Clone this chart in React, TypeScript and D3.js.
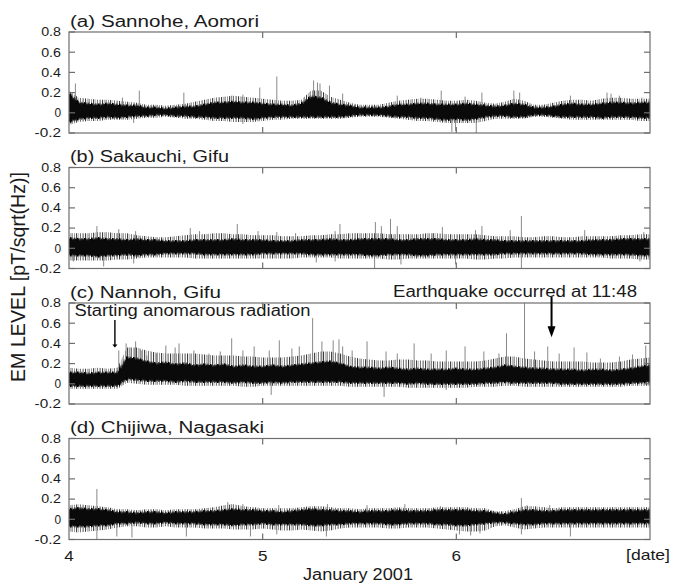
import React from 'react';
import * as d3 from 'd3';

// ---------------- data ----------------
const SAMPLE_DAYS = d3.range(61).map((i) => 4 + i * 0.05); // sample times, 0.05 day apart
const X_TICKS = [4, 5, 6];
const X_TICK_LABELS = ['4', '5', '6'];
const Y_TICKS = [-0.2, 0, 0.2, 0.4, 0.6, 0.8];
const Y_TICK_LABELS = ['-0.2', '0', '0.2', '0.4', '0.6', '0.8'];
const TITLES = ['(a) Sannohe, Aomori', '(b) Sakauchi, Gifu', '(c) Nannoh, Gifu', '(d) Chijiwa, Nagasaki'];
const TITLE_WIDTHS = [189, 159, 151, 194];

// (a) Sannohe
const A_CORE_HI = [0.19,0.10,0.09,0.08,0.09,0.08,0.07,0.07,0.05,0.05,0.04,0.05,0.06,0.06,0.08,0.10,0.10,0.11,0.10,0.10,0.09,0.08,0.08,0.07,0.09,0.16,0.15,0.10,0.08,0.07,0.05,0.05,0.05,0.06,0.08,0.08,0.09,0.09,0.08,0.08,0.08,0.09,0.08,0.07,0.06,0.07,0.09,0.08,0.05,0.05,0.06,0.08,0.09,0.08,0.08,0.09,0.10,0.10,0.09,0.10,0.10];
const A_CORE_LO = [-0.09,-0.06,-0.05,-0.05,-0.04,-0.05,-0.04,-0.03,-0.03,-0.02,-0.02,-0.03,-0.03,-0.04,-0.04,-0.05,-0.05,-0.05,-0.05,-0.06,-0.05,-0.04,-0.04,-0.04,-0.04,-0.04,-0.04,-0.04,-0.04,-0.03,-0.02,-0.02,-0.02,-0.03,-0.04,-0.04,-0.05,-0.05,-0.06,-0.07,-0.06,-0.07,-0.06,-0.04,-0.03,-0.03,-0.04,-0.04,-0.02,-0.02,-0.03,-0.04,-0.04,-0.04,-0.04,-0.05,-0.04,-0.04,-0.04,-0.05,-0.05];
const A_FRINGE_HI = [0.22,0.15,0.14,0.13,0.13,0.12,0.11,0.10,0.08,0.08,0.07,0.08,0.09,0.11,0.13,0.15,0.16,0.17,0.16,0.15,0.14,0.13,0.12,0.12,0.13,0.22,0.22,0.16,0.13,0.10,0.08,0.08,0.08,0.10,0.12,0.13,0.14,0.14,0.13,0.12,0.12,0.13,0.12,0.10,0.09,0.11,0.14,0.12,0.08,0.08,0.10,0.12,0.13,0.13,0.12,0.14,0.15,0.15,0.14,0.14,0.14];
const A_FRINGE_LO = [-0.12,-0.09,-0.08,-0.08,-0.07,-0.07,-0.07,-0.06,-0.05,-0.05,-0.04,-0.05,-0.06,-0.06,-0.07,-0.08,-0.08,-0.09,-0.09,-0.09,-0.08,-0.07,-0.07,-0.06,-0.06,-0.06,-0.06,-0.06,-0.06,-0.05,-0.04,-0.04,-0.04,-0.05,-0.06,-0.07,-0.08,-0.08,-0.09,-0.10,-0.10,-0.10,-0.10,-0.08,-0.06,-0.06,-0.06,-0.06,-0.04,-0.04,-0.05,-0.06,-0.07,-0.07,-0.07,-0.07,-0.07,-0.07,-0.07,-0.08,-0.08];
const A_SPIKES: [number, number][] = [
  [4.033,0.29],[4.276,0.15],[4.363,0.22],[4.593,0.20],[4.840,0.17],[4.898,0.18],[4.985,0.25],[5.073,0.36],
  [5.263,0.32],[5.283,0.30],[5.296,0.29],[5.345,0.27],[5.413,0.19],[5.695,0.17],[5.817,0.15],[5.922,0.22],
  [6.045,0.16],[6.132,0.20],[6.297,0.22],[6.327,0.20],[6.589,0.17],[6.778,0.20],[6.799,0.19],[6.842,0.17],
  [6.958,0.15],[5.977,-0.19],[5.996,-0.18],[6.103,-0.20],[4.334,-0.10],[4.898,-0.11],
];

// (b) Sakauchi
const B_CORE_HI = [0.10,0.09,0.09,0.10,0.09,0.09,0.08,0.09,0.08,0.08,0.07,0.07,0.07,0.08,0.08,0.08,0.08,0.09,0.08,0.08,0.08,0.07,0.07,0.07,0.08,0.08,0.08,0.09,0.08,0.08,0.09,0.09,0.09,0.09,0.08,0.08,0.09,0.09,0.09,0.08,0.08,0.08,0.09,0.08,0.08,0.07,0.07,0.07,0.07,0.07,0.07,0.07,0.07,0.07,0.08,0.08,0.08,0.09,0.09,0.09,0.09];
const B_CORE_LO = [-0.07,-0.07,-0.07,-0.08,-0.07,-0.07,-0.06,-0.07,-0.06,-0.06,-0.05,-0.05,-0.05,-0.05,-0.06,-0.06,-0.06,-0.06,-0.06,-0.06,-0.05,-0.05,-0.05,-0.05,-0.05,-0.06,-0.06,-0.06,-0.06,-0.06,-0.06,-0.07,-0.07,-0.06,-0.06,-0.06,-0.07,-0.07,-0.06,-0.06,-0.06,-0.06,-0.06,-0.06,-0.06,-0.05,-0.05,-0.05,-0.05,-0.05,-0.05,-0.05,-0.05,-0.05,-0.06,-0.06,-0.06,-0.06,-0.06,-0.07,-0.07];
const B_FRINGE_HI = [0.15,0.15,0.15,0.16,0.16,0.15,0.15,0.13,0.12,0.11,0.11,0.12,0.13,0.14,0.14,0.15,0.15,0.14,0.14,0.13,0.13,0.13,0.12,0.12,0.12,0.13,0.13,0.14,0.14,0.15,0.15,0.15,0.15,0.14,0.14,0.14,0.14,0.15,0.15,0.14,0.14,0.14,0.14,0.13,0.12,0.12,0.12,0.11,0.11,0.12,0.12,0.11,0.11,0.12,0.12,0.12,0.12,0.13,0.13,0.14,0.14];
const B_FRINGE_LO = [-0.12,-0.12,-0.12,-0.12,-0.12,-0.11,-0.11,-0.10,-0.09,-0.09,-0.09,-0.09,-0.09,-0.10,-0.10,-0.10,-0.10,-0.10,-0.10,-0.10,-0.10,-0.10,-0.10,-0.10,-0.09,-0.09,-0.09,-0.09,-0.10,-0.10,-0.10,-0.10,-0.10,-0.11,-0.11,-0.10,-0.10,-0.10,-0.10,-0.10,-0.10,-0.10,-0.11,-0.11,-0.10,-0.10,-0.09,-0.09,-0.09,-0.09,-0.09,-0.09,-0.09,-0.09,-0.09,-0.09,-0.10,-0.10,-0.10,-0.11,-0.11];
const B_SPIKES: [number, number][] = [
  [4.144,0.22],[4.257,0.19],[4.344,0.17],[4.626,0.20],[4.674,0.17],[4.869,0.24],[4.976,0.17],[5.073,0.16],
  [5.170,0.15],[5.374,0.17],[5.399,0.24],[5.582,0.26],[5.613,0.22],[5.660,0.29],[5.695,0.22],[5.879,0.15],
  [5.928,0.21],[6.099,0.18],[6.132,0.22],[6.278,0.18],[6.336,0.32],[6.663,0.18],[6.968,0.16],
  [5.578,-0.20],[6.336,-0.20],[4.334,-0.15],[4.179,-0.18],[4.023,-0.13],[5.996,-0.16],[5.714,-0.16],
  [5.277,-0.14],[5.374,-0.13],[6.948,-0.13],
];

// (c) Nannoh
const C_CORE_HI = [0.11,0.11,0.10,0.11,0.11,0.11,0.26,0.25,0.22,0.20,0.21,0.19,0.20,0.18,0.19,0.18,0.19,0.17,0.18,0.17,0.17,0.18,0.17,0.18,0.19,0.20,0.21,0.22,0.20,0.17,0.16,0.16,0.15,0.16,0.15,0.14,0.15,0.14,0.14,0.14,0.15,0.14,0.14,0.15,0.16,0.18,0.17,0.16,0.15,0.15,0.14,0.14,0.14,0.13,0.14,0.14,0.13,0.14,0.15,0.17,0.18];
const C_CORE_LO = [-0.02,-0.02,-0.02,-0.02,-0.02,-0.02,0.05,0.04,0.03,0.03,0.03,0.02,0.03,0.02,0.02,0.02,0.02,0.01,0.02,0.01,0.01,0.02,0.01,0.02,0.02,0.02,0.02,0.02,0.02,0.01,0.01,0.01,0.01,0.01,0.01,0.00,0.01,0.00,0.00,0.00,0.00,0.00,0.00,0.01,0.01,0.02,0.01,0.01,0.01,0.01,0.01,0.00,0.00,0.00,0.00,0.00,0.00,0.00,0.01,0.01,0.02];
const C_FRINGE_HI = [0.16,0.15,0.15,0.16,0.15,0.16,0.36,0.36,0.33,0.31,0.30,0.30,0.30,0.30,0.29,0.28,0.28,0.28,0.27,0.27,0.26,0.26,0.26,0.27,0.28,0.30,0.32,0.32,0.30,0.27,0.25,0.24,0.23,0.23,0.24,0.24,0.23,0.23,0.22,0.22,0.22,0.22,0.22,0.23,0.25,0.27,0.27,0.25,0.24,0.23,0.22,0.22,0.22,0.22,0.21,0.21,0.21,0.22,0.24,0.25,0.26];
const C_FRINGE_LO = [-0.05,-0.05,-0.05,-0.05,-0.05,-0.05,0.01,0.00,-0.01,-0.01,-0.01,-0.01,-0.02,-0.02,-0.02,-0.02,-0.02,-0.02,-0.03,-0.03,-0.02,-0.02,-0.02,-0.02,-0.02,-0.02,-0.02,-0.02,-0.02,-0.03,-0.03,-0.03,-0.03,-0.03,-0.03,-0.04,-0.04,-0.04,-0.04,-0.04,-0.04,-0.04,-0.03,-0.03,-0.03,-0.02,-0.02,-0.03,-0.03,-0.03,-0.03,-0.03,-0.03,-0.03,-0.03,-0.03,-0.03,-0.03,-0.02,-0.02,-0.02];
const C_SPIKES: [number, number][] = [
  [4.257,0.33],[4.295,0.40],[4.315,0.36],[4.344,0.42],[4.373,0.33],[4.402,0.28],[4.451,0.30],[4.500,0.38],
  [4.548,0.36],[4.568,0.40],[4.645,0.33],[4.723,0.30],[4.781,0.32],[4.840,0.45],[4.898,0.33],[4.956,0.37],
  [5.034,0.33],[5.086,0.43],[5.151,0.35],[5.189,0.37],[5.258,0.65],[5.306,0.42],[5.364,0.43],[5.394,0.44],
  [5.413,0.37],[5.462,0.33],[5.539,0.42],[5.637,0.32],[5.695,0.30],[5.782,0.40],[5.870,0.30],[5.948,0.33],
  [6.045,0.37],[6.142,0.32],[6.220,0.30],[6.259,0.50],[6.352,0.80],[6.404,0.32],[6.472,0.37],[6.531,0.30],
  [6.608,0.36],[6.674,0.31],[6.744,0.25],[6.842,0.27],[6.910,0.29],[6.978,0.38],
  [5.044,-0.11],[5.627,-0.13],[5.948,-0.06],
];

// (d) Chijiwa
const D_CORE_HI = [0.10,0.11,0.10,0.10,0.09,0.07,0.07,0.06,0.07,0.07,0.06,0.07,0.07,0.07,0.08,0.08,0.09,0.10,0.09,0.09,0.08,0.08,0.07,0.08,0.09,0.10,0.09,0.09,0.08,0.08,0.07,0.08,0.08,0.08,0.09,0.08,0.08,0.08,0.09,0.09,0.09,0.09,0.08,0.08,0.06,0.05,0.07,0.09,0.09,0.08,0.08,0.09,0.09,0.09,0.09,0.09,0.09,0.09,0.09,0.09,0.09];
const D_CORE_LO = [-0.07,-0.07,-0.07,-0.06,-0.06,-0.04,-0.04,-0.03,-0.04,-0.04,-0.03,-0.04,-0.04,-0.04,-0.05,-0.05,-0.05,-0.06,-0.05,-0.05,-0.04,-0.05,-0.05,-0.05,-0.05,-0.06,-0.06,-0.05,-0.05,-0.04,-0.04,-0.04,-0.04,-0.05,-0.05,-0.04,-0.04,-0.04,-0.05,-0.05,-0.06,-0.06,-0.05,-0.04,-0.03,-0.03,-0.04,-0.05,-0.05,-0.04,-0.04,-0.04,-0.04,-0.04,-0.04,-0.04,-0.04,-0.04,-0.04,-0.04,-0.04];
const D_FRINGE_HI = [0.14,0.15,0.14,0.13,0.12,0.10,0.10,0.09,0.10,0.10,0.09,0.10,0.10,0.10,0.11,0.12,0.14,0.15,0.13,0.12,0.11,0.11,0.11,0.11,0.12,0.13,0.13,0.12,0.11,0.11,0.10,0.11,0.11,0.11,0.12,0.11,0.11,0.11,0.12,0.12,0.12,0.12,0.11,0.11,0.08,0.08,0.10,0.13,0.13,0.12,0.11,0.12,0.12,0.12,0.12,0.12,0.12,0.12,0.12,0.12,0.12];
const D_FRINGE_LO = [-0.12,-0.13,-0.12,-0.11,-0.10,-0.08,-0.07,-0.07,-0.08,-0.08,-0.07,-0.08,-0.08,-0.08,-0.09,-0.09,-0.09,-0.10,-0.10,-0.10,-0.09,-0.10,-0.11,-0.11,-0.10,-0.11,-0.12,-0.11,-0.09,-0.08,-0.08,-0.08,-0.08,-0.09,-0.09,-0.08,-0.08,-0.08,-0.09,-0.10,-0.11,-0.12,-0.12,-0.11,-0.07,-0.06,-0.08,-0.10,-0.09,-0.08,-0.08,-0.08,-0.08,-0.08,-0.08,-0.08,-0.08,-0.08,-0.08,-0.08,-0.08];
const D_SPIKES: [number, number][] = [
  [4.144,0.30],[4.820,0.17],[4.840,0.15],[4.898,0.15],[5.083,0.14],[5.335,0.15],[5.539,0.14],[5.734,0.15],
  [5.918,0.13],[6.336,0.21],[6.365,0.14],[6.482,0.14],
  [4.144,-0.20],[4.247,-0.17],[4.325,-0.18],[4.606,-0.17],[4.937,-0.17],[5.073,-0.15],[5.329,-0.17],
  [6.016,-0.15],[6.074,-0.16],[6.122,-0.14],[6.336,-0.15],[6.589,-0.17],
];

// annotations
const ANOMALY_DAY = 4.237;
const ANOMALY_LABEL = 'Starting anomarous radiation';
const QUAKE_DAY = 6 + (11 + 48 / 60) / 24;
const QUAKE_LABEL = 'Earthquake occurred at 11:48';

const PANELS = [
  { coreHi: A_CORE_HI, coreLo: A_CORE_LO, fringeHi: A_FRINGE_HI, fringeLo: A_FRINGE_LO, spikes: A_SPIKES },
  { coreHi: B_CORE_HI, coreLo: B_CORE_LO, fringeHi: B_FRINGE_HI, fringeLo: B_FRINGE_LO, spikes: B_SPIKES },
  { coreHi: C_CORE_HI, coreLo: C_CORE_LO, fringeHi: C_FRINGE_HI, fringeLo: C_FRINGE_LO, spikes: C_SPIKES },
  { coreHi: D_CORE_HI, coreLo: D_CORE_LO, fringeHi: D_FRINGE_HI, fringeLo: D_FRINGE_LO, spikes: D_SPIKES },
];

// ---------------- layout ----------------
const W = 673;
const H = 584;
const LEFT = 69;
const RIGHT = 650;
const PANEL_TOPS = [32, 167.5, 303, 438.5];
const PANEL_H = 101;
const FONT = "'Liberation Sans', Arial, Helvetica, sans-serif";
const FRAME = '#6e6e6e';
const TEXT = '#1a1a1a';

// texture of the noise fringe: irregular thin vertical strokes (styling only)
const HATCH_W = 17;
const HATCH_LINES: [number, number, string][] = [
  [0, 1.1, '#3c3c3c'], [2.1, 0.7, '#9a9a9a'], [3.6, 1.0, '#5c5c5c'], [6.2, 0.8, '#7d7d7d'],
  [8.0, 1.2, '#454545'], [10.4, 0.7, '#a0a0a0'], [12.1, 0.9, '#666'], [14.6, 1.0, '#4f4f4f'],
];

const x = d3.scaleLinear().domain([4, 7]).range([LEFT, RIGHT]);

function Panel({ k }: { k: number }) {
  const p = PANELS[k];
  const top = PANEL_TOPS[k];
  const bottom = top + PANEL_H;
  const y = d3.scaleLinear().domain([-0.2, 0.8]).range([bottom, top]);
  const idx = d3.range(SAMPLE_DAYS.length);
  const fringe = d3
    .area<number>()
    .x((i) => x(SAMPLE_DAYS[i]))
    .y0((i) => y(p.fringeLo[i]))
    .y1((i) => y(p.fringeHi[i]))(idx) as string;
  const core = d3
    .area<number>()
    .x((i) => x(SAMPLE_DAYS[i]))
    .y0((i) => y(p.coreLo[i]))
    .y1((i) => y(p.coreHi[i]))(idx) as string;
  const clipId = `clip-${k}`;
  const tickLen = 6;
  return (
    <g>
      <defs>
        <clipPath id={clipId}>
          <rect x={LEFT} y={top} width={RIGHT - LEFT} height={PANEL_H} />
        </clipPath>
      </defs>
      <g clipPath={`url(#${clipId})`}>
        <path d={fringe} fill="url(#noiseHatch)" />
        {p.spikes.map(([d, v], j) => {
          const i = Math.max(0, Math.min(60, Math.round((d - 4) / 0.05)));
          const base = v > 0 ? p.coreHi[i] - 0.02 : p.coreLo[i] + 0.02;
          return (
            <line key={j} x1={x(d)} x2={x(d)} y1={y(base)} y2={y(v)} stroke="#7a7a7a" strokeWidth={0.9} />
          );
        })}
        <path d={core} fill="#0a0a0a" />
        <path d={core} fill="none" stroke="url(#noiseHatchDark)" strokeWidth={2.5} />
      </g>
      <rect x={LEFT} y={top} width={RIGHT - LEFT} height={PANEL_H} fill="none" stroke={FRAME} strokeWidth={1.2} />
      {Y_TICKS.map((t, j) => (
        <g key={`yt${j}`}>
          <line x1={LEFT} x2={LEFT + tickLen} y1={y(t)} y2={y(t)} stroke={FRAME} strokeWidth={1.2} />
          <line x1={RIGHT - tickLen} x2={RIGHT} y1={y(t)} y2={y(t)} stroke={FRAME} strokeWidth={1.2} />
          <text
            x={61}
            y={y(t) + 4.3}
            textAnchor="end"
            fontFamily={FONT}
            fontSize={12}
            fill={TEXT}
            textLength={Y_TICK_LABELS[j].length * 6.6}
            lengthAdjust="spacingAndGlyphs"
          >
            {Y_TICK_LABELS[j]}
          </text>
        </g>
      ))}
      {X_TICKS.slice(1).map((t, j) => (
        <g key={`xt${j}`}>
          <line x1={x(t)} x2={x(t)} y1={top} y2={top + tickLen} stroke={FRAME} strokeWidth={1.2} />
          <line x1={x(t)} x2={x(t)} y1={bottom - tickLen} y2={bottom} stroke={FRAME} strokeWidth={1.2} />
        </g>
      ))}
      <text
        x={LEFT + 1}
        y={top - 5.5}
        fontFamily={FONT}
        fontSize={16}
        fill={TEXT}
        textLength={TITLE_WIDTHS[k]}
        lengthAdjust="spacingAndGlyphs"
      >
        {TITLES[k]}
      </text>
    </g>
  );
}

export default function App() {
  const cTop = PANEL_TOPS[2];
  const yc = d3.scaleLinear().domain([-0.2, 0.8]).range([cTop + PANEL_H, cTop]);
  const ax = x(ANOMALY_DAY);
  const qx = x(QUAKE_DAY);
  const dBottom = PANEL_TOPS[3] + PANEL_H;
  return (
    <svg
      width={W}
      height={H}
      viewBox={`0 0 ${W} ${H}`}
      style={{ position: 'absolute', left: 0, top: 0, background: '#fff' }}
    >
      <defs>
        <pattern id="noiseHatch" patternUnits="userSpaceOnUse" width={HATCH_W} height={40}>
          {HATCH_LINES.map(([px, w, c], j) => (
            <rect key={j} x={px} y={0} width={w} height={40} fill={c} />
          ))}
        </pattern>
        <pattern id="noiseHatchDark" patternUnits="userSpaceOnUse" width={7} height={40}>
          <rect x={0} y={0} width={1.6} height={40} fill="#000" />
          <rect x={2.4} y={0} width={0.8} height={40} fill="#555" />
          <rect x={4.3} y={0} width={1.2} height={40} fill="#222" />
        </pattern>
      </defs>
      <rect x={0} y={0} width={W} height={H} fill="#fff" />
      {PANELS.map((_, k) => (
        <Panel key={k} k={k} />
      ))}
      {/* x tick labels */}
      {X_TICKS.map((t, j) => (
        <text
          key={j}
          x={x(t)}
          y={dBottom + 21}
          textAnchor="middle"
          fontFamily={FONT}
          fontSize={14}
          fill={TEXT}
          textLength={9.5}
          lengthAdjust="spacingAndGlyphs"
        >
          {X_TICK_LABELS[j]}
        </text>
      ))}
      <text x={626} y={dBottom + 20.5} fontFamily={FONT} fontSize={15} fill={TEXT} textLength={44} lengthAdjust="spacingAndGlyphs">
        [date]
      </text>
      <text x={303} y={580} fontFamily={FONT} fontSize={16} fill={TEXT} textLength={110} lengthAdjust="spacingAndGlyphs">
        January 2001
      </text>
      {/* y axis label */}
      <text
        transform={`translate(25,277) scale(1.2,1) rotate(-90)`}
        textAnchor="middle"
        fontFamily={FONT}
        fontSize={16.5}
        fill={TEXT}
        textLength={210}
        lengthAdjust="spacingAndGlyphs"
      >
        EM LEVEL  [pT/sqrt(Hz)]
      </text>
      {/* annotations */}
      <text x={74.5} y={316} fontFamily={FONT} fontSize={16} fill={TEXT} textLength={236} lengthAdjust="spacingAndGlyphs">
        {ANOMALY_LABEL}
      </text>
      <line x1={ax} x2={ax} y1={320} y2={yc(0.38)} stroke="#000" strokeWidth={1.4} />
      <path d={`M${ax - 2.6},${yc(0.38) - 1} L${ax + 2.6},${yc(0.38) - 1} L${ax},${yc(0.36)} Z`} fill="#000" />
      <text x={393} y={296.5} fontFamily={FONT} fontSize={16} fill={TEXT} textLength={244} lengthAdjust="spacingAndGlyphs">
        {QUAKE_LABEL}
      </text>
      <line x1={qx} x2={qx} y1={297} y2={yc(0.56)} stroke="#000" strokeWidth={2} />
      <path d={`M${qx - 4},${yc(0.57)} L${qx + 4},${yc(0.57)} L${qx},${yc(0.46)} Z`} fill="#000" />
    </svg>
  );
}
